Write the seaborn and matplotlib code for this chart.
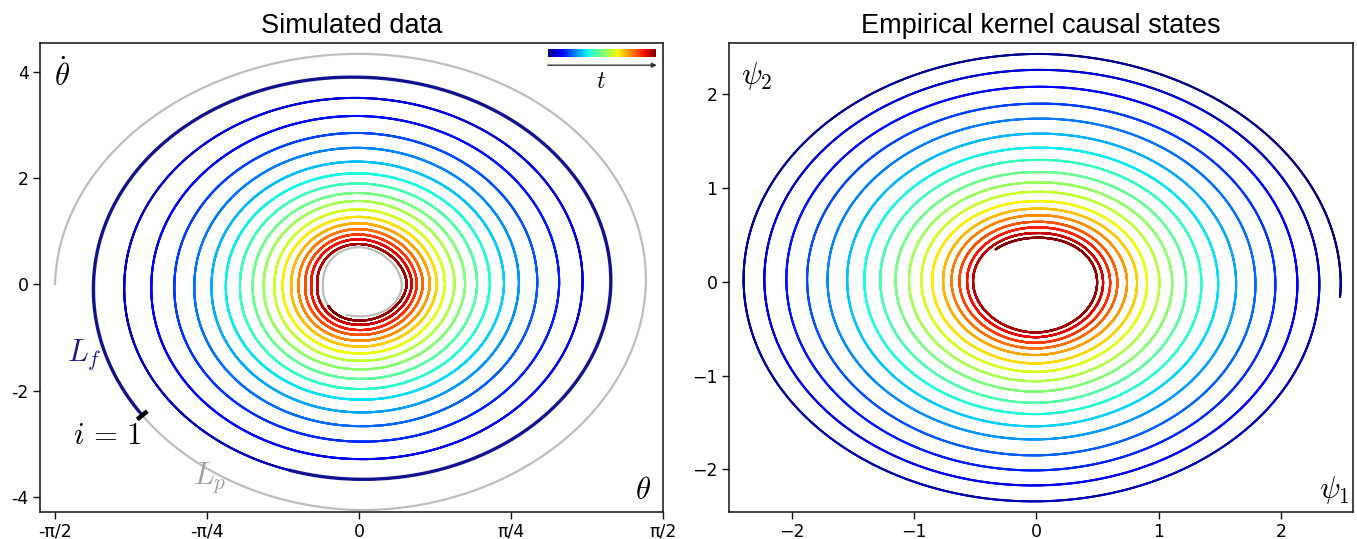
import numpy as np
import pandas as pd
import matplotlib
matplotlib.use("Agg")
import matplotlib.pyplot as plt
from matplotlib.patches import FancyArrowPatch
import seaborn as sns

# ---------------- values ----------------
# Left panel (pendulum phase space).  Extremes of each turn, in time order.
# index 0 = past window L_p (gray), 1..17 = coloured trajectory, 18 = future (gray)
theta_left = [1.571, 1.372, 1.213, 1.073, 0.954, 0.851, 0.762, 0.688, 0.615, 0.549,
              0.492, 0.437, 0.394, 0.350, 0.312, 0.278, 0.247, 0.216, 0.186]
thetadot_top = [4.34, 3.90, 3.51, 3.17, 2.85, 2.57, 2.31, 2.09, 1.90, 1.72,
                1.57, 1.41, 1.27, 1.15, 1.04, 0.94, 0.85, 0.76, 0.70]
theta_right = [1.482, 1.301, 1.155, 1.034, 0.921, 0.826, 0.749, 0.676, 0.610, 0.548,
               0.494, 0.444, 0.402, 0.366, 0.330, 0.299, 0.273, 0.247, 0.221]
thetadot_bottom = [4.25, 3.67, 3.29, 2.96, 2.67, 2.41, 2.17, 1.97, 1.78, 1.60,
                   1.44, 1.30, 1.17, 1.06, 0.95, 0.86, 0.76, 0.68, 0.60]
i1_point = (-1.07, -2.36)          # point i = 1 (end of L_p, start of data)
n_turns_data = 17

# Right panel (empirical kernel causal states), outer to inner
psi1_right = [2.49, 2.315, 2.135, 1.955, 1.792, 1.634, 1.487, 1.350, 1.225, 1.111,
              1.006, 0.905, 0.823, 0.741, 0.662, 0.603, 0.545, 0.496]
psi2_top = [2.43, 2.26, 2.08, 1.90, 1.74, 1.58, 1.43, 1.30, 1.17, 1.06,
            0.96, 0.86, 0.78, 0.71, 0.64, 0.58, 0.52, 0.47]
psi1_left = [2.397, 2.227, 2.047, 1.877, 1.710, 1.549, 1.409, 1.278, 1.153, 1.043,
             0.941, 0.853, 0.764, 0.695, 0.630, 0.568, 0.519]
psi2_bottom = [2.34, 2.17, 2.01, 1.85, 1.68, 1.54, 1.41, 1.29, 1.17, 1.06,
               0.96, 0.87, 0.78, 0.71, 0.65, 0.59, 0.54]
psi_start = (2.48, -0.16)
psi_end = (-0.32, 0.33)

left_xticks = [-np.pi / 2, -np.pi / 4, 0, np.pi / 4, np.pi / 2]
left_xticklabels = ["-π/2", "-π/4", "0", "π/4", "π/2"]
left_yticks = [-4, -2, 0, 2, 4]
left_yticklabels = ["-4", "-2", "0", "2", "4"]
right_ticks = [-2, -1, 0, 1, 2]

titles = ["Simulated data", "Empirical kernel causal states"]


# ---------------- helpers: trace a spiral through the read extremes ----------------
def amp_interp(phases, amps):
    order = np.argsort(phases)
    ph = np.asarray(phases)[order]
    la = np.log(np.asarray(amps)[order])
    return lambda p: np.exp(np.interp(p, ph, la))


def left_curve(phi):
    k = np.arange(len(theta_left))
    ax_ph = np.concatenate([2 * np.pi * k, 2 * np.pi * k + np.pi])
    ax_am = np.concatenate([theta_left, theta_right])
    ay_ph = np.concatenate([2 * np.pi * k + np.pi / 2, 2 * np.pi * k + 1.5 * np.pi])
    ay_am = np.concatenate([thetadot_top, thetadot_bottom])
    Ax = amp_interp(ax_ph, ax_am)(phi)
    Ay = amp_interp(ay_ph, ay_am)(phi)
    return -Ax * np.cos(phi), Ay * np.sin(phi)


def right_curve(phi):
    kr = np.arange(len(psi1_right))
    kl = np.arange(len(psi1_left))
    ax_ph = np.concatenate([2 * np.pi * kr, 2 * np.pi * kl + np.pi])
    ax_am = np.concatenate([psi1_right, psi1_left])
    kt = np.arange(len(psi2_top))
    kb = np.arange(len(psi2_bottom))
    ay_ph = np.concatenate([2 * np.pi * kt + np.pi / 2, 2 * np.pi * kb + 1.5 * np.pi])
    ay_am = np.concatenate([psi2_top, psi2_bottom])
    Ax = amp_interp(ax_ph, ax_am)(phi)
    Ay = amp_interp(ay_ph, ay_am)(phi)
    return Ax * np.cos(phi), Ay * np.sin(phi)


# ---- left trajectory
phi_all = np.linspace(0, 2 * np.pi * (n_turns_data + 2), 120000)
th_all, thd_all = left_curve(phi_all)
first_turn = phi_all < 2 * np.pi
d = (th_all - i1_point[0]) ** 2 + ((thd_all - i1_point[1]) / 3.0) ** 2
d[~first_turn] = np.inf
i_start = int(np.argmin(d))
phi_s = phi_all[i_start]
phi_e = phi_s + 2 * np.pi * n_turns_data
window = phi_s  # length of past / future windows

past = phi_all <= phi_s
data = (phi_all >= phi_s) & (phi_all <= phi_e)
fut = (phi_all >= phi_e) & (phi_all <= phi_e + window)
lf = (phi_all >= phi_s) & (phi_all <= phi_s + window)

df_left = pd.DataFrame({"theta": th_all[data], "thetadot": thd_all[data],
                        "t": phi_all[data]})

# ---- right trajectory
phi_r = np.linspace(-0.3, 2 * np.pi * 17 + np.pi, 100000)
p1_all, p2_all = right_curve(phi_r)
ds = (p1_all - psi_start[0]) ** 2 + (p2_all - psi_start[1]) ** 2
ds[phi_r > 1.0] = np.inf
r_s = phi_r[int(np.argmin(ds))]
de = (p1_all - psi_end[0]) ** 2 + (p2_all - psi_end[1]) ** 2
de[phi_r < 2 * np.pi * 16.5] = np.inf
r_e = phi_r[int(np.argmin(de))]
sel = (phi_r >= r_s) & (phi_r <= r_e)
df_right = pd.DataFrame({"psi1": p1_all[sel], "psi2": p2_all[sel], "t": phi_r[sel]})

# ---------------- figure ----------------
sns.set_theme(style="ticks")
plt.rcParams["font.family"] = ["DejaVu Sans"]
plt.rcParams["mathtext.fontset"] = "cm"
plt.rcParams["axes.edgecolor"] = "#111111"
plt.rcParams["axes.linewidth"] = 1.1
plt.rcParams["text.color"] = "black"
plt.rcParams["xtick.color"] = "#111111"
plt.rcParams["ytick.color"] = "#111111"
plt.rcParams["xtick.labelcolor"] = "black"
plt.rcParams["ytick.labelcolor"] = "black"

jet = matplotlib.colormaps["jet"]

fig = plt.figure(figsize=(13.57, 5.39), dpi=100)
axL = fig.add_axes([0.0294, 0.0507, 0.4592, 0.8701])
axR = fig.add_axes([0.5369, 0.0507, 0.4601, 0.8701])

gray = "#bdbdbd"
# gray past and future windows
axL.plot(th_all[past], thd_all[past], color=gray, lw=1.6, zorder=1)
axL.plot(th_all[fut], thd_all[fut], color=gray, lw=1.6, zorder=1)
# coloured data
sns.scatterplot(data=df_left, x="theta", y="thetadot", hue="t", palette=jet,
                s=2.2, linewidth=0, alpha=0.7, legend=False, ax=axL, zorder=2,
                rasterized=True)
# L_f window of i = 1
axL.plot(th_all[lf], thd_all[lf], color="#14148c", lw=2.5, alpha=0.85, zorder=3,
         solid_capstyle="butt")

sns.scatterplot(data=df_right, x="psi1", y="psi2", hue="t", palette=jet,
                s=2.2, linewidth=0, alpha=0.7, legend=False, ax=axR, zorder=2,
                rasterized=True)

# axes limits and ticks
axL.set_xlim(-1.649, np.pi / 2)
axL.set_ylim(-4.28, 4.55)
axL.set_xticks(left_xticks)
axL.set_xticklabels(left_xticklabels)
axL.set_yticks(left_yticks)
axL.set_yticklabels(left_yticklabels)
axR.set_xlim(-2.52, 2.59)
axR.set_ylim(-2.45, 2.55)
axR.set_xticks(right_ticks)
axR.set_yticks(right_ticks)

for ax, title in zip([axL, axR], titles):
    ax.set_xlabel("")
    ax.set_ylabel("")
    ax.set_title(title, fontsize=19.5, family="Liberation Sans", pad=7,
                 color="black")
    ax.tick_params(labelsize=12.5, length=5, width=1.0, direction="out", pad=3)
    for s in ax.spines.values():
        s.set_visible(True)

# marker for i = 1, perpendicular to the trajectory
fig.canvas.draw()
tr = axL.transData
p0 = tr.transform((th_all[i_start], thd_all[i_start]))
p1 = tr.transform((th_all[i_start + 40], thd_all[i_start + 40]))
tang = (p1 - p0) / np.linalg.norm(p1 - p0)
nrm = np.array([-tang[1], tang[0]])
seg = np.array([p0 - 6.5 * nrm, p0 + 6.5 * nrm])
seg_d = tr.inverted().transform(seg)
axL.plot(seg_d[:, 0], seg_d[:, 1], color="black", lw=3.2, zorder=5,
         solid_capstyle="butt")

# annotations
axL.text(0.035, 0.93, r"$\dot{\theta}$", transform=axL.transAxes, fontsize=22,
         ha="center", va="center")
axL.text(0.968, 0.045, r"$\theta$", transform=axL.transAxes, fontsize=22,
         ha="center", va="center")
axL.text(0.072, 0.335, r"$L_f$", transform=axL.transAxes, fontsize=22,
         ha="center", va="center", color="#1a1a8c")
axL.text(0.108, 0.162, r"$i\,=\,1$", transform=axL.transAxes, fontsize=22,
         ha="center", va="center", color="black")
axL.text(0.273, 0.073, r"$L_p$", transform=axL.transAxes, fontsize=22,
         ha="center", va="center", color="#a0a0a0")
axR.text(0.045, 0.93, r"$\psi_2$", transform=axR.transAxes, fontsize=22,
         ha="center", va="center")
axR.text(0.97, 0.047, r"$\psi_1$", transform=axR.transAxes, fontsize=22,
         ha="center", va="center")

# small time colour bar
cax = axL.inset_axes([0.815, 0.969, 0.172, 0.018])
cax.imshow(np.linspace(0, 1, 256)[None, :], cmap=jet, aspect="auto")
cax.set_xticks([])
cax.set_yticks([])
cax.set_axis_off()
arrow = FancyArrowPatch((0.815, 0.952), (0.99, 0.952), transform=axL.transAxes,
                        arrowstyle="-|>", color="#333333", lw=1.0,
                        mutation_scale=7, shrinkA=0, shrinkB=0)
axL.add_patch(arrow)
axL.text(0.9, 0.918, r"$t$", transform=axL.transAxes, fontsize=17,
         ha="center", va="center")

fig.savefig("out.png", dpi=100)
